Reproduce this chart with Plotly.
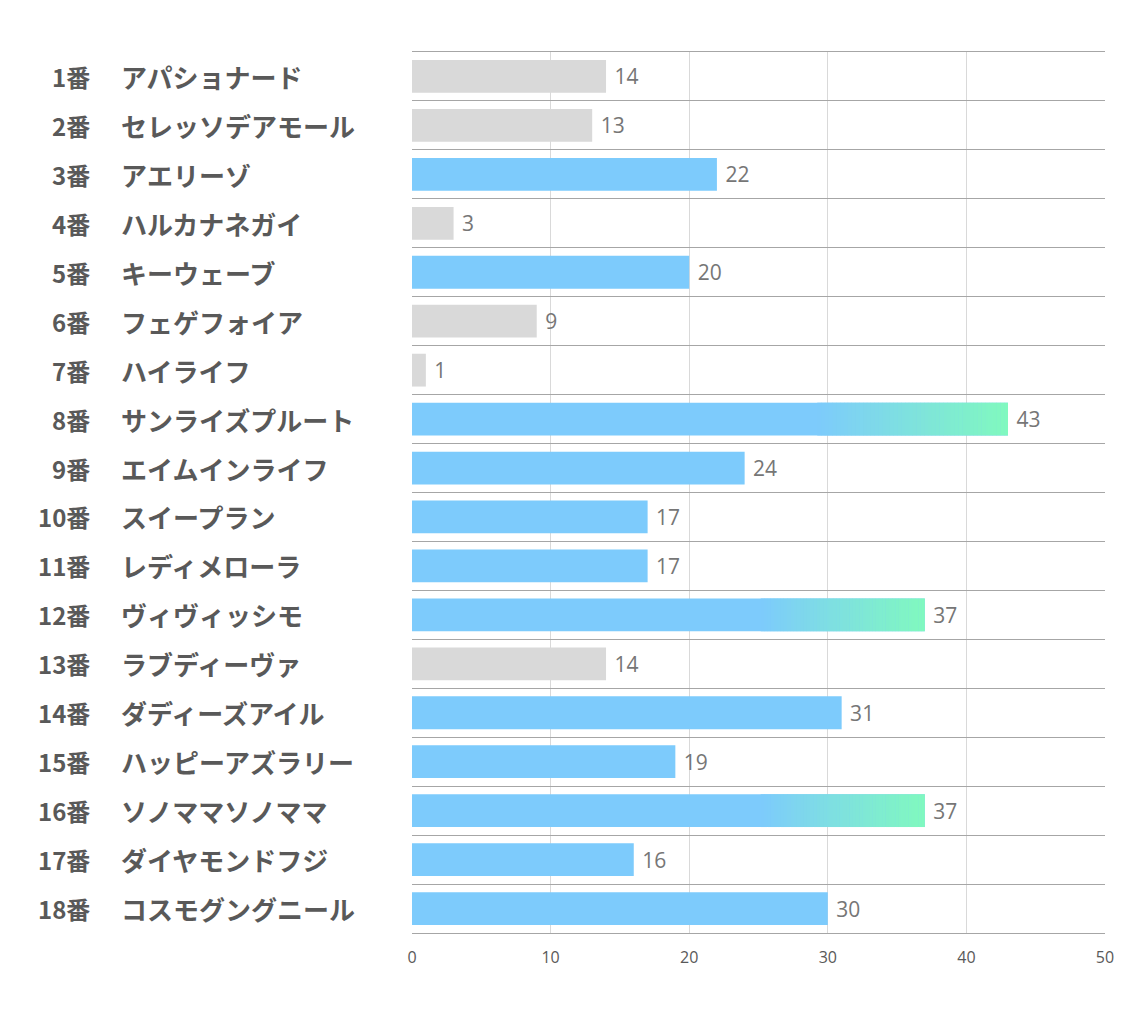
import plotly.graph_objects as go

numbers = [f"{i}番" for i in range(1, 19)]
names = [
    "アパショナード", "セレッソデアモール", "アエリーゾ", "ハルカナネガイ", "キーウェーブ",
    "フェゲフォイア", "ハイライフ", "サンライズプルート", "エイムインライフ", "スイープラン",
    "レディメローラ", "ヴィヴィッシモ", "ラブディーヴァ", "ダディーズアイル", "ハッピーアズラリー",
    "ソノママソノママ", "ダイヤモンドフジ", "コスモグングニール",
]
values = [14, 13, 22, 3, 20, 9, 1, 43, 24, 17, 17, 37, 14, 31, 19, 37, 16, 30]
# "gray" = not highlighted, "blue" = highlighted, "grad" = blue with green gradient tail
kinds = ["gray", "gray", "blue", "gray", "blue", "gray", "gray", "grad", "blue", "blue",
         "blue", "grad", "gray", "blue", "blue", "grad", "blue", "blue"]
x_ticks = [0, 10, 20, 30, 40, 50]

GRAY = "#d9d9d9"
BLUE = (125, 203, 252)
GREEN = (128, 249, 190)
TXT = "#595959"

cats = [f"r{i}" for i in range(len(values))]
colors = [GRAY if k == "gray" else "rgb(%d,%d,%d)" % BLUE for k in kinds]

fig = go.Figure()
fig.add_trace(go.Bar(
    y=cats, x=values, orientation="h", width=0.67,
    marker=dict(color=colors, line=dict(width=0)),
    text=[" " + str(v) for v in values], textposition="outside", cliponaxis=False,
    textfont=dict(family="Open Sans, Noto Sans", size=21, color="#767676"),
    hoverinfo="skip",
))

# gradient tails: split the last part of each highlighted bar into thin coloured slices
steps = 50
g_y, g_base, g_x, g_col = [], [], [], []
for c, v, k in zip(cats, values, kinds):
    if k != "grad":
        continue
    start = v * 0.68
    w = (v - start) / steps
    for s in range(steps):
        t = (s + 0.5) / steps
        rgb = tuple(round(BLUE[j] + (GREEN[j] - BLUE[j]) * t) for j in range(3))
        g_y.append(c)
        g_base.append(start + s * w)
        g_x.append(w * 1.1 if s < steps - 1 else w)
        g_col.append("rgb(%d,%d,%d)" % rgb)
fig.add_trace(go.Bar(
    y=g_y, x=g_x, base=g_base, orientation="h", width=0.67,
    marker=dict(color=g_col, line=dict(width=0)), hoverinfo="skip",
))

for c, n, nm in zip(cats, numbers, names):
    fig.add_annotation(x=0, xref="paper", y=c, yref="y", text=f"<b>{n}</b>",
                       xanchor="right", xshift=-320, showarrow=False,
                       font=dict(family="Noto Sans CJK JP", size=24, color=TXT))
    fig.add_annotation(x=0, xref="paper", y=c, yref="y", text=f"<b>{nm}</b>",
                       xanchor="left", xshift=-293, showarrow=False,
                       font=dict(family="Noto Sans CJK JP", size=26, color=TXT))

fig.update_layout(
    width=1134, height=1020, barmode="overlay", showlegend=False,
    paper_bgcolor="white", plot_bgcolor="white",
    margin=dict(l=404, r=37, t=44, b=95),
    xaxis=dict(range=[0, 50], tickvals=x_ticks, showgrid=True, gridcolor="#d9d9d9",
               gridwidth=1, zeroline=False, layer="above traces", showline=True,
               linecolor="#a6a6a6", mirror=True, ticks="", ticklabelstandoff=10,
               tickfont=dict(family="Open Sans, Noto Sans", size=16, color=TXT)),
    yaxis=dict(categoryorder="array", categoryarray=cats, autorange="reversed",
               showticklabels=False, tickson="boundaries", showgrid=True,
               gridcolor="#a6a6a6", gridwidth=1, ticks="", showline=False,
               zeroline=False),
)

fig.write_html("out.html")
